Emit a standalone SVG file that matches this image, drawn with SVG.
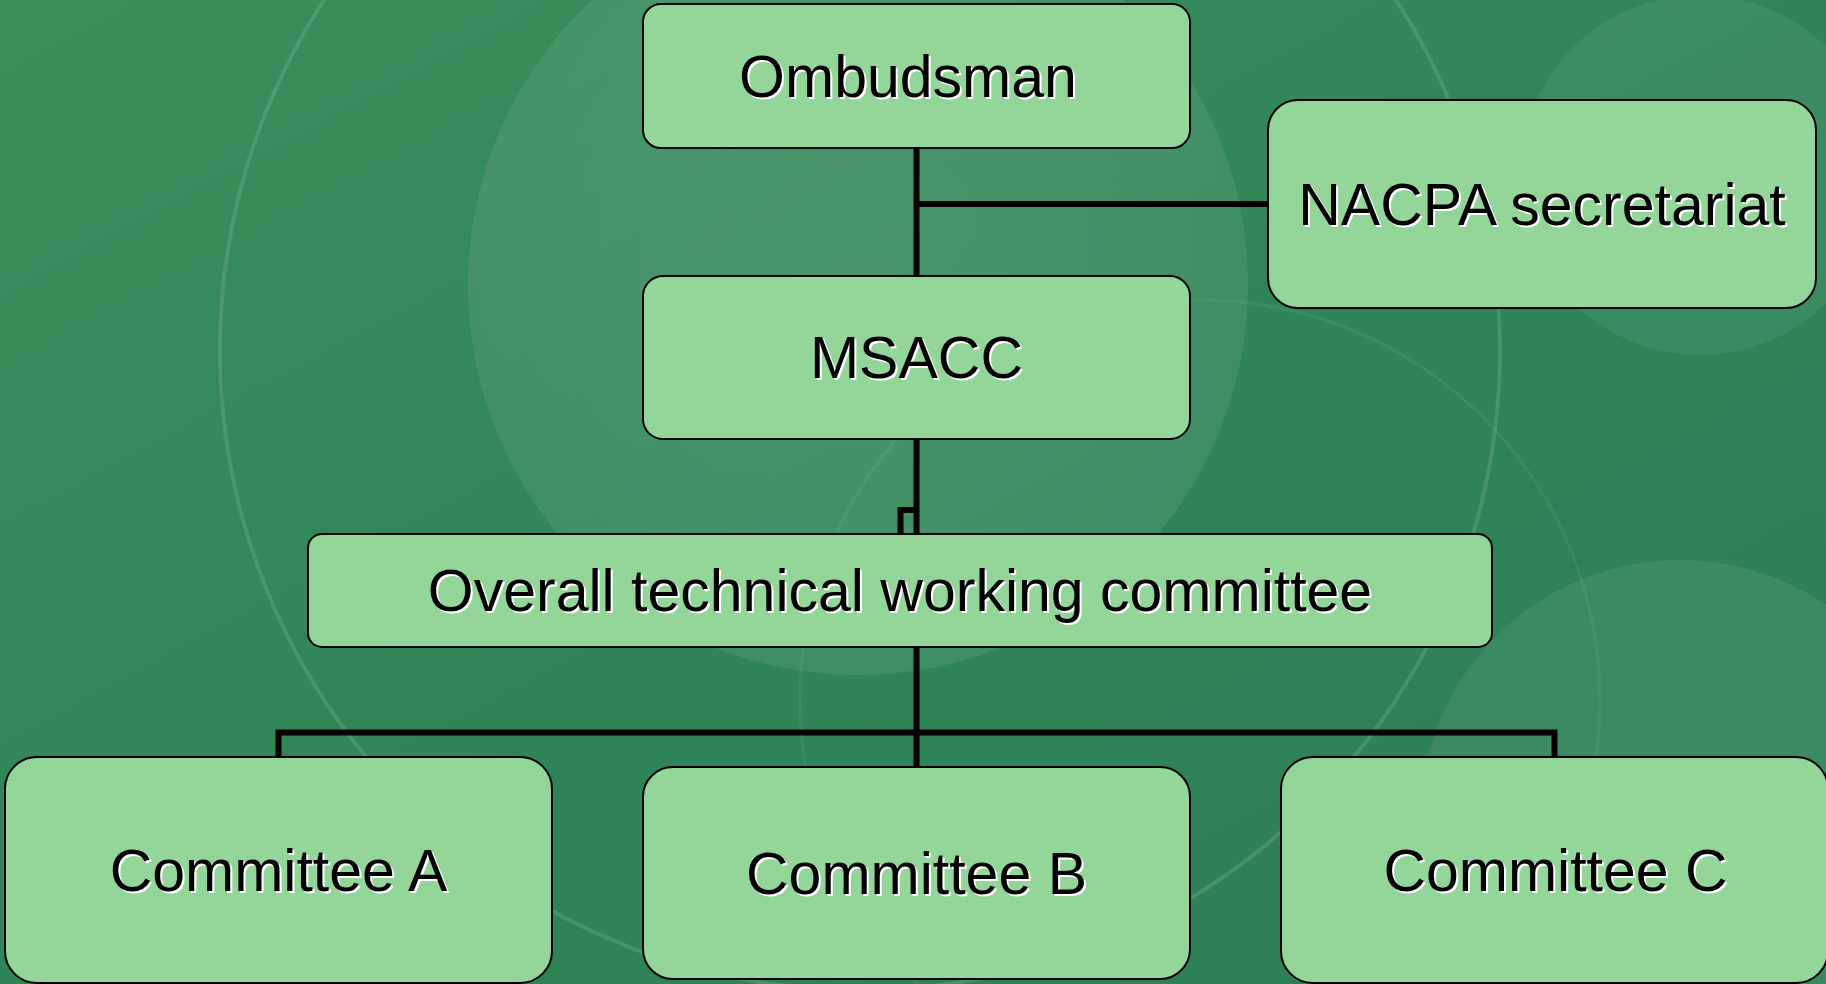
<svg xmlns="http://www.w3.org/2000/svg" width="1826" height="984" viewBox="0 0 1826 984">
<defs>
<linearGradient id="bg" x1="0" y1="0" x2="1" y2="1">
<stop offset="0" stop-color="#3a8f5c"/>
<stop offset="0.5" stop-color="#2f8555"/>
<stop offset="1" stop-color="#2e7f55"/>
</linearGradient>
<radialGradient id="glow" cx="0.5" cy="0.5" r="0.5">
<stop offset="0" stop-color="#ffffff" stop-opacity="0.12"/>
<stop offset="1" stop-color="#ffffff" stop-opacity="0.08"/>
</radialGradient>
</defs>
<style>
.box{fill:#94d69a;stroke:#000;stroke-width:2}
.lbl{font-family:"Liberation Sans",Arial,sans-serif;font-size:59px;fill:#000;text-anchor:middle}
.sh{fill:#fff}
.con{fill:none;stroke:#000;stroke-width:6}
</style>
<rect x="0" y="0" width="1826" height="984" fill="url(#bg)"/>
<g id="background">
<circle cx="858" cy="285" r="390" fill="url(#glow)"/>
<circle cx="1700" cy="175" r="180" fill="#ffffff" fill-opacity="0.06"/>
<circle cx="1680" cy="820" r="260" fill="#ffffff" fill-opacity="0.07"/>
<circle cx="860" cy="350" r="640" fill="none" stroke="#ffffff" stroke-opacity="0.12" stroke-width="4"/>
<circle cx="1200" cy="700" r="400" fill="none" stroke="#ffffff" stroke-opacity="0.06" stroke-width="3"/>
</g>
<g id="connectors">
<line class="con" x1="916.5" y1="148" x2="916.5" y2="276"/>
<line class="con" x1="916.5" y1="204" x2="1268" y2="204"/>
<line class="con" x1="916.5" y1="439" x2="916.5" y2="534"/>
<polyline class="con" points="900.5,534 900.5,510 916.5,510"/>
<line class="con" x1="916.5" y1="647" x2="916.5" y2="767"/>
<polyline class="con" points="278.5,757 278.5,732.5 1554.5,732.5 1554.5,757"/>
</g>
<g id="ombudsman">
<rect class="box" x="643" y="4" width="547" height="144" rx="18"/>
<text class="lbl sh" x="910" y="99">Ombudsman</text>
<text class="lbl" x="908" y="97">Ombudsman</text>
</g>
<g id="nacpa">
<rect class="box" x="1268" y="100" width="548" height="208" rx="30"/>
<text class="lbl sh" x="1544" y="227">NACPA secretariat</text>
<text class="lbl" x="1542" y="225">NACPA secretariat</text>
</g>
<g id="msacc">
<rect class="box" x="643" y="276" width="547" height="163" rx="20"/>
<text class="lbl sh" x="918.5" y="380">MSACC</text>
<text class="lbl" x="916.5" y="378">MSACC</text>
</g>
<g id="overall">
<rect class="box" x="308" y="534" width="1184" height="113" rx="14"/>
<text class="lbl sh" x="902" y="613">Overall technical working committee</text>
<text class="lbl" x="900" y="611">Overall technical working committee</text>
</g>
<g id="committeeA">
<rect class="box" x="5" y="757" width="547" height="226" rx="32"/>
<text class="lbl sh" x="280.5" y="893">Committee A</text>
<text class="lbl" x="278.5" y="891">Committee A</text>
</g>
<g id="committeeB">
<rect class="box" x="643" y="767" width="547" height="212" rx="30"/>
<text class="lbl sh" x="918.5" y="896">Committee B</text>
<text class="lbl" x="916.5" y="894">Committee B</text>
</g>
<g id="committeeC">
<rect class="box" x="1281" y="757" width="547" height="226" rx="32"/>
<text class="lbl sh" x="1557.5" y="893">Committee C</text>
<text class="lbl" x="1555.5" y="891">Committee C</text>
</g>
</svg>
